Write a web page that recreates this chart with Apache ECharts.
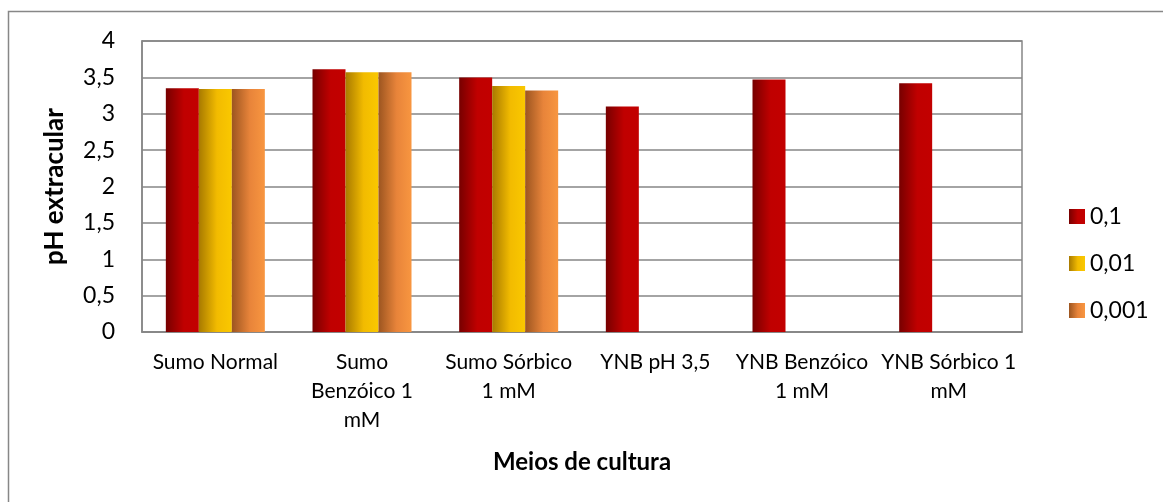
<!DOCTYPE html>
<html>
<head>
<meta charset="utf-8">
<script src="https://cdn.jsdelivr.net/npm/echarts@6/dist/echarts.min.js"></script>
<style>
  html, body { margin: 0; padding: 0; background: #fff; }
  #chart { width: 1163px; height: 502px; }
</style>
</head>
<body>
<div id="chart"></div>
<script>
// Culture media (wrapped the way they appear under the axis)
const categories = [
  'Sumo Normal',
  'Sumo\nBenzóico 1\nmM',
  'Sumo Sórbico\n1 mM',
  'YNB pH 3,5',
  'YNB Benzóico\n1 mM',
  'YNB Sórbico 1\nmM'
];
const seriesNames = ['0,1', '0,01', '0,001'];
// Extracellular pH per dilution (null = not measured)
const values01 = [3.35, 3.61, 3.50, 3.10, 3.47, 3.42];
const values001 = [3.34, 3.57, 3.38, null, null, null];
const values0001 = [3.34, 3.57, 3.32, null, null, null];
const yTicks = [0, 0.5, 1, 1.5, 2, 2.5, 3, 3.5, 4];

const FONT = 'Lato, "Open Sans", sans-serif';

function grad(c0, c1, c2) {
  return new echarts.graphic.LinearGradient(0, 0, 1, 0, [
    { offset: 0, color: c0 },
    { offset: 0.55, color: c1 },
    { offset: 1, color: c2 }
  ]);
}
const fills = [
  grad('#770000', '#c00000', '#c20000'),
  grad('#a87a00', '#f2bb00', '#fac800'),
  grad('#9c5520', '#e8843a', '#f89640')
];

const chart = echarts.init(document.getElementById('chart'), null, { renderer: 'canvas' });

const seriesData = [values01, values001, values0001];

chart.setOption({
  animation: false,
  backgroundColor: '#fff',
  graphic: [{
    type: 'rect',
    shape: { x: 8.5, y: 11.5, width: 1200, height: 600 },
    style: { fill: 'none', stroke: '#878787', lineWidth: 1.5 },
    silent: true
  }],
  grid: {
    left: 142, right: 141, top: 41, bottom: 170,
    show: true, borderColor: '#868686', borderWidth: 1.5, backgroundColor: 'transparent'
  },
  legend: {
    orient: 'vertical',
    left: 1064, top: 200,
    itemWidth: 16, itemHeight: 15, itemGap: 24,
    icon: 'rect',
    textStyle: { fontFamily: FONT, fontSize: 23, color: '#000' },
    data: seriesNames
  },
  xAxis: {
    type: 'category',
    data: categories,
    name: 'Meios de cultura',
    nameLocation: 'middle',
    nameGap: 118,
    nameTextStyle: { fontFamily: FONT, fontSize: 24, fontWeight: 'bold', color: '#000' },
    axisLine: { lineStyle: { color: '#868686', width: 1.5 } },
    axisTick: { show: false },
    axisLabel: {
      interval: 0, margin: 16,
      fontFamily: FONT, fontSize: 21, color: '#000', lineHeight: 29, align: 'center'
    }
  },
  yAxis: {
    type: 'value',
    min: yTicks[0], max: yTicks[yTicks.length - 1], interval: 0.5,
    name: 'pH extracular',
    nameLocation: 'middle',
    nameGap: 74,
    nameTextStyle: { fontFamily: FONT, fontSize: 26, fontWeight: 'bold', color: '#000' },
    axisLine: { show: true, lineStyle: { color: '#868686', width: 1.5 } },
    axisTick: { show: false },
    splitLine: { lineStyle: { color: '#868686', width: 1.5 } },
    axisLabel: {
      margin: 27,
      fontFamily: FONT, fontSize: 23, color: '#000',
      formatter: v => String(v).replace('.', ',')
    }
  },
  series: seriesNames.map((name, i) => ({
    name,
    type: 'bar',
    data: seriesData[i],
    barGap: '0%',
    barCategoryGap: '32.5%',
    itemStyle: { color: fills[i] }
  }))
});
</script>
</body>
</html>
